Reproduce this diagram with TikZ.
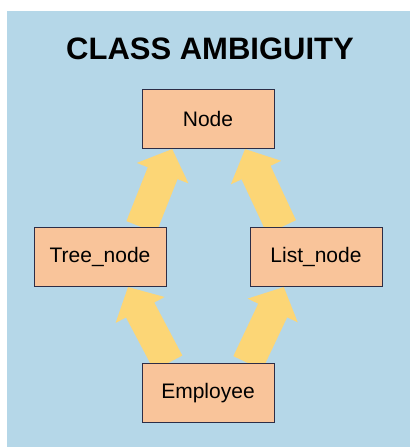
\documentclass[tikz,border=0pt]{standalone}
\usepackage{fontspec}
\setmainfont{Liberation Sans}
\usetikzlibrary{positioning,arrows.meta,backgrounds}
\definecolor{panelblue}{RGB}{181,215,232}
\definecolor{boxpeach}{RGB}{249,196,154}
\definecolor{arrowyellow}{RGB}{252,214,118}
\definecolor{boxline}{RGB}{45,45,70}
\begin{document}
\begin{tikzpicture}[
x=1pt, y=1pt,
on grid,
node distance=138pt,
classbox/.style={
draw=boxline,
line width=1pt,
fill=boxpeach,
minimum width=132pt,
minimum height=59pt,
align=center,
font=\fontsize{21}{25}\selectfont
},
fatarrow/.style={
draw=arrowyellow,
fill=arrowyellow,
line width=32pt,
-{Triangle[width=54pt,length=26pt]}
}
]
\useasboundingbox (0,0) rectangle (410,-447);
\node[font=\fontsize{31}{36}\selectfont\bfseries] (title) at (210,-49) {CLASS AMBIGUITY};
\node[classbox] (top) at (208,-119) {Node};
\node[classbox] (tree) [below left=138pt and 108pt of top] {Tree\_node};
\node[classbox] (list) [below right=138pt and 108pt of top] {List\_node};
\node[classbox] (emp) [below=274pt of top] {Employee};
\begin{scope}[on background layer]
\fill[panelblue] (7,-11) rectangle (410,-447);
\draw[fatarrow] (tree.36) -- (top.220);
\draw[fatarrow] (list.139) -- (top.321);
\draw[fatarrow] (emp.143) -- (tree.313);
\draw[fatarrow] (emp.37) -- (list.223);
\end{scope}
\end{tikzpicture}
\end{document}
